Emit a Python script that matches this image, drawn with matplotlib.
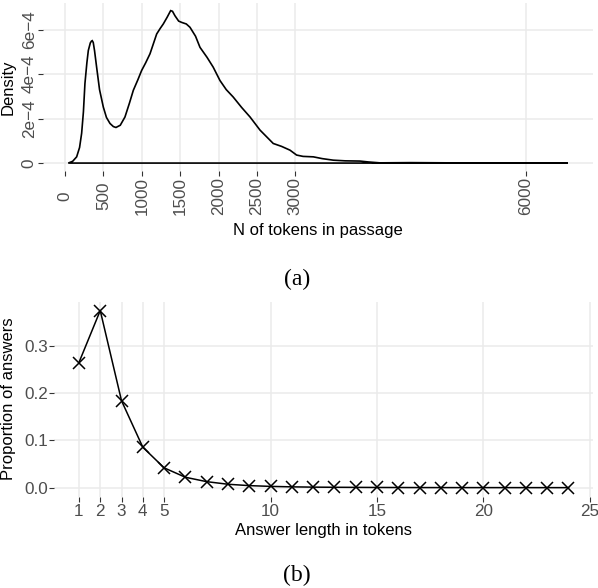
import numpy as np
import matplotlib
matplotlib.use("Agg")
import matplotlib.pyplot as plt

plt.rcParams["font.family"] = ["Liberation Sans", "DejaVu Sans"]

# (a) density of passage length (density in units of 1e-4)
tokens = [43, 100, 152, 190, 217, 240, 260, 285, 304, 330, 345, 355, 368, 385,
          412, 450, 499, 540, 586, 630, 664, 720, 781, 840, 890, 950, 998,
          1050, 1107, 1150, 1194, 1240, 1280, 1330, 1376, 1400, 1432, 1480,
          1520, 1580, 1628, 1700, 1758, 1850, 1930, 2018, 2100, 2190, 2300,
          2410, 2540, 2626, 2712, 2820, 2930, 3016, 3100, 3234, 3350, 3494,
          3650, 3841, 3950, 4100, 4500, 5000, 5500, 6000, 6550]
density_e4 = [0.0, 0.08, 0.28, 0.7, 1.34, 2.3, 3.58, 4.5, 5.06, 5.4, 5.48, 5.50,
              5.42, 5.05, 4.31, 3.3, 2.52, 2.05, 1.78, 1.64, 1.60, 1.70, 2.07,
              2.7, 3.27, 3.75, 4.16, 4.5, 4.91, 5.35, 5.80, 6.05, 6.25, 6.55,
              6.85, 6.82, 6.62, 6.38, 6.32, 6.25, 6.1, 5.7, 5.2, 4.75, 4.31,
              3.71, 3.3, 2.97, 2.5, 2.07, 1.48, 1.18, 0.88, 0.75, 0.58, 0.36,
              0.30, 0.28, 0.2, 0.13, 0.10, 0.09, 0.05, 0.01, 0.02, 0.01, 0.005,
              0.003, 0.0]
tok_breaks = [0, 500, 1000, 1500, 2000, 2500, 3000, 6000]
dens_breaks = [0, 2e-4, 4e-4, 6e-4]
dens_labels = ["0", "2e\u22124", "4e\u22124", "6e\u22124"]

# (b) answer length distribution
ans_len = list(range(1, 25))
ans_prop = [0.265, 0.375, 0.184, 0.0856, 0.042, 0.022, 0.0127, 0.0072, 0.0043,
            0.0027, 0.0017, 0.0011, 0.0008, 0.0006, 0.0004, 0.0003, 0.0002,
            0.00015, 0.0001, 0.0001, 0.00008, 0.00006, 0.00005, 0.00004]
len_breaks = [1, 2, 3, 4, 5, 10, 15, 20, 25]
prop_breaks = [0.0, 0.1, 0.2, 0.3]

GRID = "#EBEBEB"
TICK = "#333333"
TLAB = "#4D4D4D"


def expand(lo, hi, f=0.05):
    d = (hi - lo) * f
    return lo - d, hi + d


def style(ax):
    for s in ax.spines.values():
        s.set_visible(False)
    ax.grid(True, color=GRID, lw=1.1)
    ax.set_axisbelow(True)
    ax.tick_params(length=3.3, width=0.8, color=TICK, labelcolor=TLAB,
                   labelsize=12.3)


fig = plt.figure(figsize=(5.98, 5.88), dpi=100)

# panel (a)
ax1 = fig.add_axes([0.0724, 0.7097, 0.9916 - 0.0724, 0.9949 - 0.7097])
x = np.array(tokens)
y = np.array(density_e4) * 1e-4
ax1.fill(x, y, fill=False, edgecolor="black", lw=1.2)
ax1.set_xlim(*expand(x.min(), x.max()))
ax1.set_ylim(*expand(0, y.max()))
ax1.set_xticks(tok_breaks)
ax1.set_xticklabels([str(t) for t in tok_breaks], rotation=90, va="center")
ax1.set_yticks(dens_breaks)
ax1.set_yticklabels(dens_labels, rotation=90, va="center", ha="right")
style(ax1)
ax1.tick_params(axis="x", pad=15)
ax1.tick_params(axis="y", pad=1.5)
ax1.set_xlabel("N of tokens in passage", fontsize=12, va="center")
ax1.xaxis.set_label_coords(0.5, -0.354)
ax1.set_ylabel("Density", fontsize=12, va="center")
ax1.yaxis.set_label_coords(-0.0633, 0.5)

# panel (b)
ax2 = fig.add_axes([0.0911, 0.1556, 0.9916 - 0.0911, 0.4869 - 0.1556])
ax2.plot(ans_len, ans_prop, color="black", lw=1.1, marker="x", ms=8, mew=1.1)
ax2.set_xlim(*expand(min(ans_len), max(ans_len)))
ax2.set_ylim(*expand(0, max(ans_prop)))
ax2.set_xticks(len_breaks)
ax2.set_yticks(prop_breaks)
ax2.set_yticklabels([f"{v:.1f}" for v in prop_breaks])
style(ax2)
ax2.tick_params(axis="x", pad=2)
ax2.tick_params(axis="y", pad=1.5)
ax2.set_xlabel("Answer length in tokens", fontsize=12, va="center")
ax2.xaxis.set_label_coords(0.5, -0.172)
ax2.set_ylabel("Proportion of answers", fontsize=12, va="center")
ax2.yaxis.set_label_coords(-0.0854, 0.5)

fig.text(0.497, 1 - 279 / 588, "(a)", family="Liberation Serif", fontsize=17,
         ha="center", va="center")
fig.text(0.497, 1 - 575 / 588, "(b)", family="Liberation Serif", fontsize=17,
         ha="center", va="center")

fig.savefig("out.png", dpi=100)
